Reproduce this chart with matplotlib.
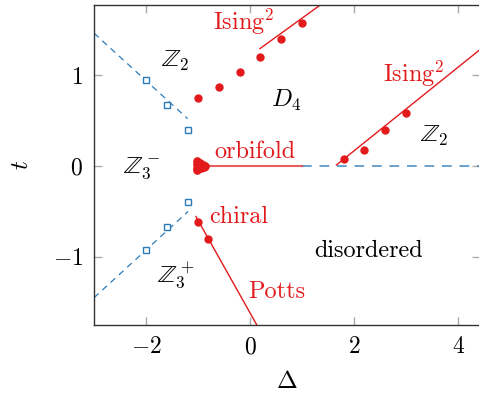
import matplotlib
matplotlib.use("Agg")
import matplotlib.pyplot as plt
import numpy as np

plt.rcParams['font.family'] = 'serif'
plt.rcParams['font.serif'] = ['cmr10', 'DejaVu Serif']
plt.rcParams['mathtext.fontset'] = 'cm'
plt.rcParams['axes.formatter.use_mathtext'] = True

RED = '#e31a1c'
BLUE = '#2b7bba'

# Blue open squares (Z3 boundaries)
sq_up_x = [-2.0, -1.6, -1.2]
sq_up_y = [0.945, 0.67, 0.40]
sq_dn_x = [-2.0, -1.6, -1.2]
sq_dn_y = [-0.93, -0.67, -0.40]

# Blue dashed lines (endpoints)
bl_up_x = [-3.0, -1.2]
bl_up_y = [1.46, 0.52]
bl_dn_x = [-3.0, -1.19]
bl_dn_y = [-1.45, -0.50]
bl_h_x = [1.0, 4.4]
bl_h_y = [0.0, 0.0]

# Red dots: D4 upper boundary
d4_x = [-1.0, -0.6, -0.2, 0.2, 0.6, 1.0]
d4_y = [0.745, 0.87, 1.03, 1.20, 1.395, 1.575]
# Ising^2 upper line
is1_x = [0.19, 1.35]
is1_y = [1.29, 1.77]

# Right Ising^2
is2_dx = [1.8, 2.2, 2.6, 3.0]
is2_dy = [0.075, 0.18, 0.40, 0.58]
is2_x = [1.66, 4.4]
is2_y = [0.01, 1.27]

# orbifold
orb_x = [-1.0, 1.0]
orb_y = [0.0, 0.0]
clus_x = [-1.02, -1.02, -1.02, -1.02, -1.0, -0.97, -0.94, -0.91, -0.88, -0.86]
clus_y = [0.05, 0.02, -0.02, -0.05, 0.0, 0.03, -0.025, 0.015, -0.01, 0.0]

# chiral / Potts
ch_x = [-1.0, -0.8]
ch_y = [-0.62, -0.80]
po_x = [-1.04, 0.14]
po_y = [-0.557, -1.76]

fig = plt.figure(figsize=(4.79, 3.95), dpi=100)
ax = fig.add_axes([94/479, 70/395, (479-94)/479 + 0.002, 320/395])

ax.plot(bl_up_x, bl_up_y, ls=(0, (5, 4)), color=BLUE, lw=0.9)
ax.plot(bl_dn_x, bl_dn_y, ls=(0, (5, 4)), color=BLUE, lw=0.9)
ax.plot(bl_h_x, bl_h_y, ls=(0, (5, 4)), color=BLUE, lw=1.4, alpha=0.7)
ax.plot(sq_up_x, sq_up_y, 's', mfc='white', mec=BLUE, ms=5, mew=1.0)
ax.plot(sq_dn_x, sq_dn_y, 's', mfc='white', mec=BLUE, ms=5, mew=1.0)

ax.plot(orb_x, orb_y, color=RED, lw=1.5, alpha=0.7)
ax.plot(clus_x, clus_y, 'o', color=RED, ms=5.2)
ax.plot(d4_x, d4_y, 'o', color=RED, ms=5)
ax.plot(is1_x, is1_y, color=RED, lw=1.0)
ax.plot(is2_dx, is2_dy, 'o', color=RED, ms=5)
ax.plot(is2_x, is2_y, color=RED, lw=1.0)
ax.plot(ch_x, ch_y, 'o', color=RED, ms=5)
ax.plot(po_x, po_y, color=RED, lw=1.0)

fs = 17.5
ax.text(-0.13, 1.58, r'Ising$^2$', color=RED, fontsize=fs, ha='center', va='center')
ax.text(3.15, 1.01, r'Ising$^2$', color=RED, fontsize=fs, ha='center', va='center')
ax.text(-1.44, 1.15, r'$ℤ_2$', color='black', fontsize=fs, ha='center', va='center')
ax.text(3.54, 0.33, r'$ℤ_2$', color='black', fontsize=fs, ha='center', va='center')
ax.text(0.69, 0.72, r'$D_4$', color='black', fontsize=fs, ha='center', va='center')
ax.text(0.1, 0.15, 'orbifold', color=RED, fontsize=fs, ha='center', va='center')
ax.text(-2.08, -0.03, r'$ℤ_3^-$', color='black', fontsize=fs, ha='center', va='center')
ax.text(-1.42, -1.21, r'$ℤ_3^+$', color='black', fontsize=fs, ha='center', va='center')
ax.text(-0.21, -0.56, 'chiral', color=RED, fontsize=fs, ha='center', va='center')
ax.text(2.27, -0.93, 'disordered', color='black', fontsize=fs, ha='center', va='center')
ax.text(0.52, -1.39, 'Potts', color=RED, fontsize=fs, ha='center', va='center')

ax.set_xlim(-3, 4.42)
ax.set_ylim(-1.75, 1.77)
ax.set_xticks([-2, 0, 2, 4])
ax.set_yticks([-1, 0, 1])
ax.tick_params(direction='in', length=6, width=1, color='#aaaaaa', labelsize=17,
               top=True, right=True, pad=8)
for s in ax.spines.values():
    s.set_color('#333333')
    s.set_linewidth(1.0)
ax.set_xlabel(r'$\Delta$', fontsize=18, labelpad=9)
ax.set_ylabel(r'$t$', fontsize=18, rotation=90, labelpad=14)

fig.savefig('out.png', dpi=100)
